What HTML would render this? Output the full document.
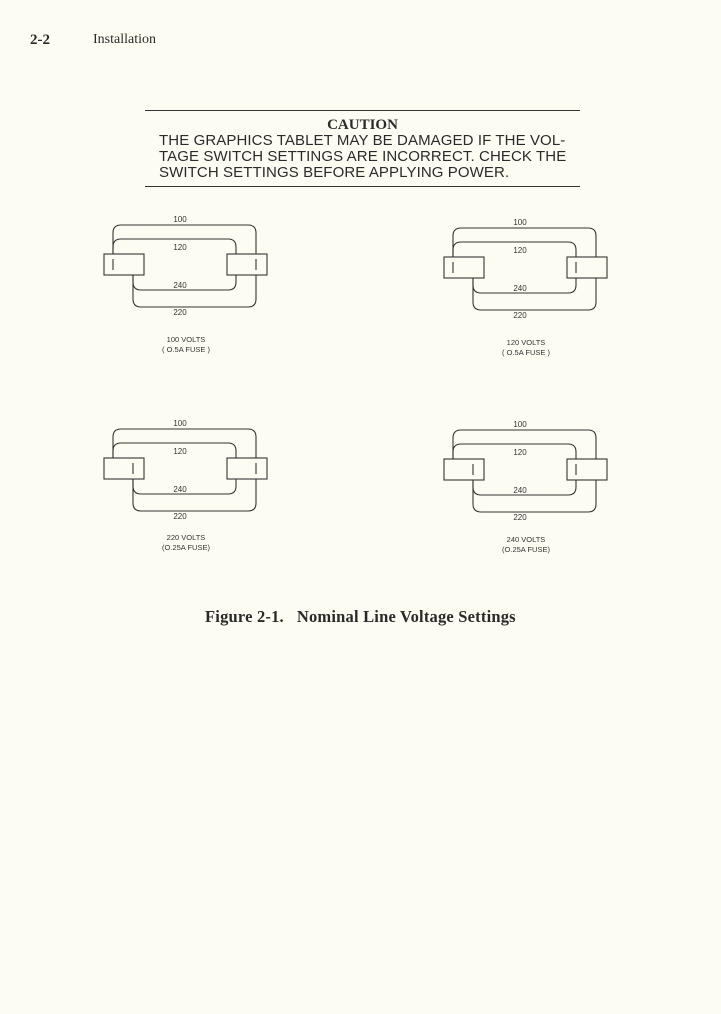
<!DOCTYPE html>
<html><head><meta charset="utf-8"><style>
body{margin:0;background:#fdfcf3;}
.p{position:relative;width:721px;height:1014px;overflow:hidden;background:#fdfcf3;color:#2a2a2a;}
.t{position:absolute;white-space:nowrap;}
</style></head><body><div class="p">
<div class="t" style="left:30px;top:32px;font:bold 15px 'Liberation Serif',serif;">2-2</div>
<div class="t" style="left:93px;top:32px;font:14px 'Liberation Serif',serif;">Installation</div>
<div style="position:absolute;left:145px;top:110px;width:435px;height:1px;background:#333"></div>
<div style="position:absolute;left:145px;top:186px;width:435px;height:1px;background:#333"></div>
<div class="t" style="left:145px;width:435px;text-align:center;top:117px;font:bold 15px 'Liberation Serif',serif;">CAUTION</div>
<div class="t" style="left:159px;top:133px;font:15px 'Liberation Sans',sans-serif;letter-spacing:0.1px;line-height:16px;">THE GRAPHICS TABLET MAY BE DAMAGED IF THE VOL-<br>TAGE SWITCH SETTINGS ARE INCORRECT. CHECK THE<br>SWITCH SETTINGS BEFORE APPLYING POWER.</div>
<svg width="721" height="1014" style="position:absolute;left:0;top:0" font-family="Liberation Sans, sans-serif" fill="none" stroke="#333" stroke-width="1.1">
<defs>
<g id="d">
<path d="M9,0 V-21 Q9,-29 17,-29 H144 Q152,-29 152,-21 V45 Q152,53 144,53 H37 Q29,53 29,45 V21"/>
<path d="M9,0 V-7 Q9,-15 17,-15 H124 Q132,-15 132,-7 V28 Q132,36 124,36 H37 Q29,36 29,28 V21"/>
<rect x="0" y="0" width="40" height="21" fill="#fdfcf3"/>
<rect x="123" y="0" width="40" height="21" fill="#fdfcf3"/>
<g fill="#333" stroke="none" font-size="8" text-anchor="middle">
<text x="76" y="-32">100</text><text x="76" y="-4">120</text><text x="76" y="34">240</text><text x="76" y="61">220</text>
</g>
</g>
</defs>
<g transform="translate(104,254)"><use href="#d"/><path d="M9,5 V16 M152,5 V16"/>
<g fill="#333" stroke="none" font-size="7.5" text-anchor="middle"><text x="82" y="88">100 VOLTS</text><text x="82" y="98">( O.5A FUSE )</text></g></g>
<g transform="translate(444,257)"><use href="#d"/><path d="M9,5 V16 M132,5 V16"/>
<g fill="#333" stroke="none" font-size="7.5" text-anchor="middle"><text x="82" y="88">120 VOLTS</text><text x="82" y="98">( O.5A FUSE )</text></g></g>
<g transform="translate(104,458)"><use href="#d"/><path d="M29,5 V16 M152,5 V16"/>
<g fill="#333" stroke="none" font-size="7.5" text-anchor="middle"><text x="82" y="82">220 VOLTS</text><text x="82" y="92">(O.25A FUSE)</text></g></g>
<g transform="translate(444,459)"><use href="#d"/><path d="M29,5 V16 M132,5 V16"/>
<g fill="#333" stroke="none" font-size="7.5" text-anchor="middle"><text x="82" y="83">240 VOLTS</text><text x="82" y="93">(O.25A FUSE)</text></g></g>
</svg>
<div class="t" style="left:205px;top:607px;font:bold 16.5px 'Liberation Serif',serif;letter-spacing:0.2px;">Figure 2-1.&nbsp;&nbsp; Nominal Line Voltage Settings</div>
</div></body></html>
